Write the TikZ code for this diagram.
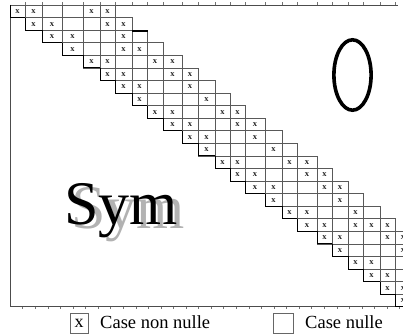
\documentclass[tikz,border=0pt]{standalone}
\usepackage{fontspec}
\setmainfont{Liberation Serif}
\begin{document}
\def\colE{{10,25,42,62,83,100,115,132,147,163,182,198,215,230,245,265,282,297,317,332,348,363,380,395,411,428}}
\tikzset{
  cell/.style={draw=black!65, line width=0.6pt},
  stair/.style={draw=black, line width=0.8pt},
  frame/.style={draw=black!70, line width=0.6pt},
  tick/.style={draw=black!55, line width=0.4pt},
  xmark/.style={inner sep=0pt, text=black!85, font=\bfseries\fontsize{8.5}{9}\selectfont},
  legbox/.style={draw=black!60, line width=0.6pt, minimum width=18pt, minimum height=20pt, inner sep=0pt, font=\fontsize{18}{20}\selectfont},
  legtext/.style={anchor=base west, inner sep=0pt, font=\fontsize{18.5}{20}\selectfont},
}
\begin{tikzpicture}[x=1pt,y=-1pt]
\useasboundingbox (0,0) rectangle (403,334);
\fill[white] (0,0) rectangle (403,334);
\begin{scope}
\clip (0,0) rectangle (403,334);
% frame
\draw[frame] (10,5) -- (398,5);
\draw[frame] (10,5) -- (10,306.7) -- (403,306.7);
\foreach \k in {1,...,23}{
  \pgfmathsetmacro\tx{\colE[\k]}
  \draw[tick] (\tx,5) -- (\tx,2.5);
}
\foreach \k in {1,...,31}{
  \draw[tick] (10+12.57*\k,306.7) -- (10+12.57*\k,309);
}
% band cells
\foreach \i in {1,...,24}{
  \foreach \d in {0,...,5}{
    \pgfmathtruncatemacro\jj{\i+\d}
    \ifnum\jj<25
      \pgfmathsetmacro\xl{\colE[\jj-1]}
      \pgfmathsetmacro\xr{\colE[\jj]}
      \pgfmathsetmacro\yt{5+12.57*(\i-1)}
      \draw[cell] (\xl,\yt) rectangle (\xr,\yt+12.57);
    \fi
  }
}
% lower staircase
\foreach \i in {1,...,24}{
  \pgfmathsetmacro\xl{\colE[\i-1]}
  \pgfmathsetmacro\xr{\colE[\i]}
  \pgfmathsetmacro\yt{5+12.57*(\i-1)}
  \draw[stair] (\xl,\yt) -- (\xl,\yt+12.57) -- (\xr,\yt+12.57);
}
\draw[line width=2.2pt] (132,31) -- (148,31);
% nonzero marks
\foreach \r/\cc in {1/1,1/2,1/5,1/6, 2/2,2/3,2/6,2/7, 3/3,3/4,3/7, 4/4,4/7,4/8,
  5/5,5/6,5/9,5/10, 6/6,6/7,6/10,6/11, 7/7,7/8,7/11, 8/8,8/12,
  9/9,9/10,9/13,9/14, 10/10,10/11,10/14,10/15, 11/11,11/12,11/15, 12/12,12/16,
  13/13,13/14,13/17,13/18, 14/14,14/15,14/18,14/19, 15/15,15/16,15/19,15/20, 16/16,16/20,
  17/17,17/18,17/21, 18/18,18/19,18/21,18/22,18/23, 19/19,19/20,19/23,19/24, 20/20,20/24,
  21/21,21/22, 22/22,22/23, 23/23,23/24, 24/24}{
  \pgfmathtruncatemacro\ca{\cc-1}
  \pgfmathsetmacro\xa{\colE[\ca]}
  \pgfmathsetmacro\xb{\colE[\cc]}
  \pgfmathsetmacro\xc{(\xa+\xb)/2}
  \pgfmathsetmacro\yc{5+12.57*(\r-1)+6.6}
  \node[xmark] (x\r-\cc) at (\xc,\yc) {x};
}
% zero block
\draw[line width=3.6pt] (352.5,75) ellipse [x radius=18.6, y radius=35.2];
% Sym with shadow
\node[anchor=base west, inner sep=0pt, text=black!30, font=\fontsize{62}{62}\selectfont] (symshadow) at (71,228) {Sym};
\node[anchor=base west, inner sep=0pt, font=\fontsize{62}{62}\selectfont] (sym) at (64,224) {Sym};
\end{scope}
% legend
\node[legbox] (lb1) at (79,323) {x};
\node[legtext] (lt1) at (100,328) {Case non nulle};
\node[legbox, minimum width=20pt] (lb2) at (283,323) {};
\node[legtext] (lt2) at (305,328) {Case nulle};
\end{tikzpicture}
\end{document}
